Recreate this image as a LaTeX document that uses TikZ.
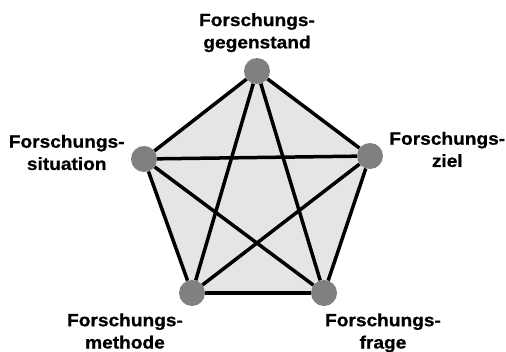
\documentclass[tikz,border=0pt]{standalone}
\usepackage{fontspec}
\setmainfont[FakeStretch=1.08, BoldFeatures={FakeBold=0.8}]{Liberation Sans}
\usepackage{xcolor}
\usepackage{tikz}
\usetikzlibrary{positioning, backgrounds}

\definecolor{vertexgray}{gray}{0.5}
\definecolor{pentagongray}{gray}{0.9}

\begin{document}
\begin{tikzpicture}[
    x=1pt, y=-1pt,
    vertex/.style={circle, fill=vertexgray, minimum size=26pt, inner sep=0pt},
    edge/.style={line width=3.5pt, black},
    lbl/.style={align=center, inner sep=0pt, font=\fontsize{17.7}{22.3}\selectfont\bfseries},
]
\useasboundingbox (0,0) rectangle (506,351);

% Vertices
\node[vertex] (gst) at (257,71) {};
\node[vertex] (sit) at (144,159) {};
\node[vertex] (ziel) at (370,156) {};
\node[vertex] (meth) at (192,293) {};
\node[vertex] (frage) at (324,293) {};

% Labels
\node[lbl, above=5.5pt of gst] (gstlbl) {Forschungs-\\gegenstand};
\node[lbl, left=6pt of sit, yshift=6.5pt] (sitlbl) {Forschungs-\\situation};
\node[lbl, right=6pt of ziel, yshift=6.5pt] (ziellbl) {Forschungs-\\ziel};
\node[lbl, below=7pt of meth, xshift=-67pt] (methlbl) {Forschungs-\\methode};
\node[lbl, below=7pt of frage, xshift=59pt] (fragelbl) {Forschungs-\\frage};

% Pentagon area
\begin{scope}[on background layer]
\fill[pentagongray] (gst.center) -- (ziel.center) -- (frage.center)
    -- (meth.center) -- (sit.center) -- cycle;
\end{scope}

% Sides and diagonals
\foreach \a/\b in {gst/ziel, ziel/frage, frage/meth, meth/sit, sit/gst,
                   gst/frage, gst/meth, sit/ziel, sit/frage, ziel/meth}
  \draw[edge] (\a) -- (\b);

\end{tikzpicture}
\end{document}
